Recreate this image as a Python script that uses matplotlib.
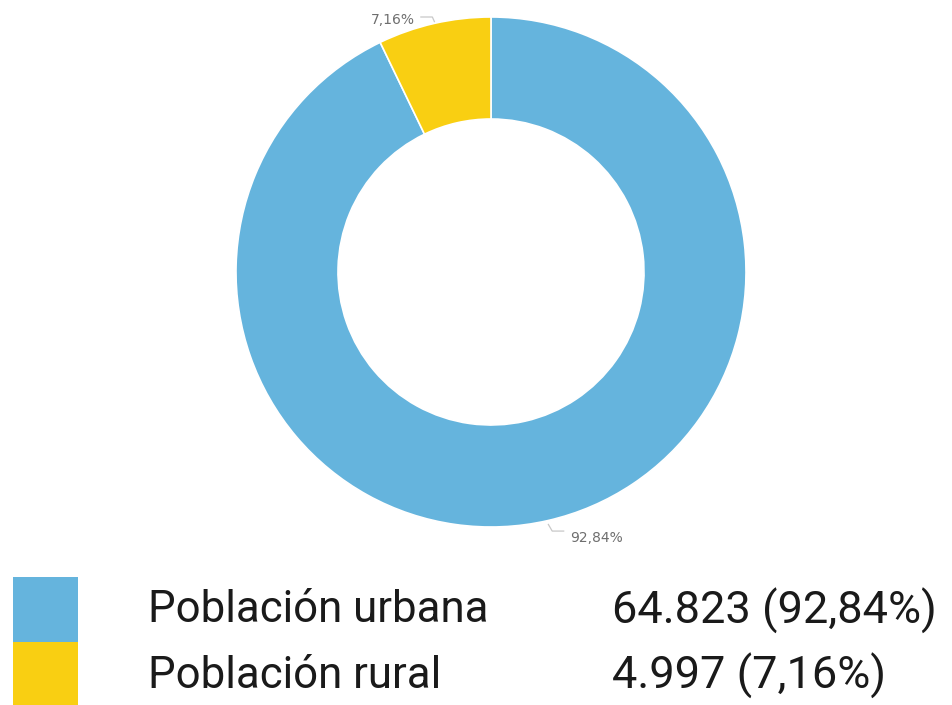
import matplotlib
matplotlib.use("Agg")
import matplotlib.pyplot as plt
from matplotlib.patches import Rectangle

# datos
labels = ["Población urbana", "Población rural"]
values = [64823, 4997]
value_texts = ["64.823 (92,84%)", "4.997 (7,16%)"]
pct_texts = ["92,84%", "7,16%"]
colors = ["#65B4DD", "#F9CF12"]

W, H = 953, 705
fig = plt.figure(figsize=(W / 100, H / 100), dpi=100)
fig.patch.set_facecolor("white")

# donut: centro (491, 272) px, radio 255 px
cx, cy, r = 491, 272, 255
ax = fig.add_axes([(cx - r) / W, (H - cy - r) / H, 2 * r / W, 2 * r / H])
ax.pie(values, colors=colors, startangle=90, counterclock=False, radius=1,
       wedgeprops=dict(width=0.4, edgecolor="white", linewidth=1.2))
ax.set_xlim(-1, 1)
ax.set_ylim(-1, 1)
ax.set_aspect("equal")
ax.axis("off")

# etiquetas de porcentaje con guia
ax.text(0.31, -1.045, pct_texts[0], fontsize=10, color="#6e6e6e", family="DejaVu Sans",
        ha="left", va="center")
ax.plot([0.225, 0.24, 0.285], [-0.99, -1.016, -1.016], color="#c8c8c8", lw=0.9, clip_on=False)
ax.text(-0.30, 0.99, pct_texts[1], fontsize=10, color="#6e6e6e", family="DejaVu Sans",
        ha="right", va="center")
ax.plot([-0.275, -0.23, -0.222], [1.0, 1.0, 0.982], color="#c8c8c8", lw=0.9, clip_on=False)

# leyenda
sw_top = [577, 642]
sw_h = 65
for i in range(len(labels)):
    fig.patches.append(Rectangle((13 / W, 1 - (sw_top[i] + sw_h) / H), 65 / W, sw_h / H,
                                 transform=fig.transFigure, facecolor=colors[i],
                                 edgecolor="none"))
    yc = 1 - (sw_top[i] + sw_h / 2 + 1) / H
    fig.text(148 / W, yc, labels[i], fontsize=31.5, family="Roboto", color="#1a1a1a",
             ha="left", va="center")
    fig.text(612 / W, yc, value_texts[i], fontsize=32.5, family="Roboto", color="#1a1a1a",
             ha="left", va="center")

fig.savefig("out.png", dpi=100)
